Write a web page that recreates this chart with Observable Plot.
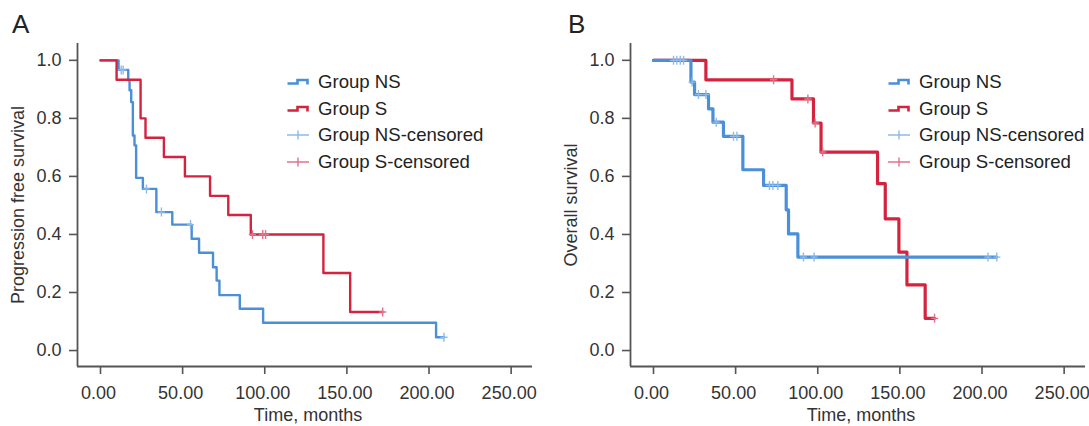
<!DOCTYPE html>
<html>
<head>
<meta charset="utf-8">
<script src="https://cdn.jsdelivr.net/npm/d3@7"></script>
<script src="https://cdn.jsdelivr.net/npm/@observablehq/plot@0.6"></script>
<style>
  body { margin: 0; background: #fff; font-family: "Liberation Sans", Arial, Helvetica, sans-serif; }
  #wrap { position: relative; width: 1089px; height: 426px; overflow: hidden; background: #fff; }
  .panel { position: absolute; top: 0; }
  .tag { position: absolute; font-size: 26px; line-height: 26px; color: #222; }
  .legend { position: absolute; font-size: 18.6px; color: #222; }
  .legend .row { height: 26.5px; display: flex; align-items: center; white-space: nowrap; }
  .legend svg { width: 22px; height: 12px; margin-right: 9px; flex: none; }
</style>
</head>
<body>
<div id="wrap"></div>
<script>
// ---------- data ----------
const xTicks = [0, 50, 100, 150, 200, 250];
const yTicks = [0, 0.2, 0.4, 0.6, 0.8, 1.0];
const legendLabels = ["Group NS", "Group S", "Group NS-censored", "Group S-censored"];
const panelTags = ["A", "B"];
const yTitles = ["Progression free survival", "Overall survival"];
const xTitle = "Time, months";

// Panel A: progression free survival
const pfsNSTime = [0, 11, 16.9, 17.7, 18.7, 19.7, 20.7, 21.7, 25.8, 34, 43.7, 55.5, 60, 68.5, 70.7, 72.4, 84.8, 99, 204.3, 209.1];
const pfsNSSurv = [1, 0.967, 0.931, 0.897, 0.856, 0.741, 0.707, 0.595, 0.557, 0.477, 0.434, 0.385, 0.337, 0.287, 0.241, 0.191, 0.144, 0.096, 0.046, 0.046];
const pfsNSCensTime = [12.6, 13.8, 28, 37.1, 54.8, 209.1];
const pfsNSCensSurv = [0.967, 0.967, 0.557, 0.477, 0.434, 0.046];

const pfsSTime = [0, 9.8, 24.4, 27.4, 38.6, 51.4, 66.7, 77.8, 91.5, 135.7, 152, 171.8];
const pfsSSurv = [1, 0.933, 0.8, 0.733, 0.667, 0.6, 0.533, 0.467, 0.4, 0.267, 0.133, 0.133];
const pfsSCensTime = [92.5, 98.8, 100.5, 171.8];
const pfsSCensSurv = [0.4, 0.4, 0.4, 0.133];

// Panel B: overall survival
const osNSTime = [0, 22.8, 25, 33.5, 36.2, 42.6, 54.4, 67, 80.8, 82.2, 87.9, 209];
const osNSSurv = [1, 0.925, 0.882, 0.833, 0.787, 0.738, 0.623, 0.569, 0.485, 0.402, 0.322, 0.322];
const osNSCensTime = [12.2, 14.2, 16.3, 18.3, 23.5, 27.4, 31.9, 38.2, 48.7, 50.8, 70.6, 72.7, 75.7, 91.3, 97.8, 203.6, 209];
const osNSCensSurv = [1, 1, 1, 1, 0.925, 0.882, 0.882, 0.787, 0.738, 0.738, 0.569, 0.569, 0.569, 0.322, 0.322, 0.322, 0.322];

const osSTime = [0, 31.9, 84.3, 97.4, 102, 136.4, 141.1, 149.4, 154.3, 165.4, 171.1];
const osSSurv = [1, 0.933, 0.867, 0.784, 0.684, 0.575, 0.454, 0.339, 0.226, 0.111, 0.111];
const osSCensTime = [73.1, 94, 98.4, 103, 171.1];
const osSCensSurv = [0.933, 0.867, 0.784, 0.684, 0.111];

// ---------- styling ----------
const BLUE = "#4a8fd8", RED = "#d3233f";
const BLUE_L = "#8fbbe8", RED_L = "#e2728a";
const AXIS = "#555", TEXT = "#333";
const FONT = "'Liberation Sans', Arial, Helvetica, sans-serif";
const xDomain = [-14, 263];
const yDomain = [-0.055, 1.058];

const cross = {
  draw(ctx, size) {
    const r = Math.sqrt(size / Math.PI);
    ctx.moveTo(-r * 0.8, 0); ctx.lineTo(r * 0.8, 0);
    ctx.moveTo(0, -r); ctx.lineTo(0, r);
  }
};

const toRows = (ts, ss) => ts.map((t, i) => ({t, s: ss[i]}));

function panel({width, marginRight, ns, nsC, s, sC, yTitle, lw, blueOnTop}) {
  const blueMarks = [
    Plot.line(ns, {x: "t", y: "s", curve: "step-after", stroke: BLUE, strokeWidth: lw}),
    Plot.dot(nsC, {x: "t", y: "s", symbol: cross, r: 4.5, stroke: BLUE_L, strokeWidth: 1.4, fill: "none"})
  ];
  const redMarks = [
    Plot.line(s, {x: "t", y: "s", curve: "step-after", stroke: RED, strokeWidth: lw}),
    Plot.dot(sC, {x: "t", y: "s", symbol: cross, r: 4.5, stroke: RED_L, strokeWidth: 1.4, fill: "none"})
  ];
  return Plot.plot({
    width, height: 426,
    marginLeft: 77, marginRight, marginTop: 43, marginBottom: 60,
    style: {fontFamily: FONT, fontSize: "18px", color: TEXT, background: "white", overflow: "visible"},
    x: {domain: xDomain},
    y: {domain: yDomain},
    marks: [
      // tick marks only
      Plot.axisX({ticks: xTicks, tickFormat: () => "", tickSize: 8,
                  stroke: AXIS, strokeWidth: 1.6, label: null}),
      // tick labels only
      Plot.axisX({ticks: xTicks, tickFormat: d3.format(".2f"), tickSize: 0, tickPadding: 20,
                  fontSize: 18, fill: TEXT, label: null, dx: -2}),
      Plot.axisY({ticks: yTicks, tickFormat: d3.format(".1f"), tickSize: 8, tickPadding: 8,
                  fontSize: 18, stroke: AXIS, strokeWidth: 1.6, fill: TEXT, label: null}),
      Plot.ruleX([xDomain[0]], {stroke: AXIS, strokeWidth: 1.8}),
      Plot.ruleY([yDomain[0]], {stroke: AXIS, strokeWidth: 1.8}),
      Plot.text([yTitle], {frameAnchor: "left", textAnchor: "middle", lineAnchor: "middle",
                           dx: -59, rotate: -90, fontSize: 18, fill: TEXT}),
      Plot.text([xTitle], {frameAnchor: "bottom", textAnchor: "middle", lineAnchor: "middle",
                           dx: 3, dy: 48.5, fontSize: 18, fill: TEXT}),
      ...(blueOnTop ? [...redMarks, ...blueMarks] : [...blueMarks, ...redMarks])
    ]
  });
}

const wrap = document.getElementById("wrap");

function addPanel(left, node) {
  const d = document.createElement("div");
  d.className = "panel";
  d.style.left = left + "px";
  d.appendChild(node);
  wrap.appendChild(d);
}

addPanel(0, panel({
  width: 553, marginRight: 21,
  ns: toRows(pfsNSTime, pfsNSSurv), nsC: toRows(pfsNSCensTime, pfsNSCensSurv),
  s: toRows(pfsSTime, pfsSSurv), sC: toRows(pfsSCensTime, pfsSCensSurv),
  yTitle: yTitles[0], lw: 2.4, blueOnTop: false
}));
addPanel(553, panel({
  width: 536, marginRight: 4,
  ns: toRows(osNSTime, osNSSurv), nsC: toRows(osNSCensTime, osNSCensSurv),
  s: toRows(osSTime, osSSurv), sC: toRows(osSCensTime, osSCensSurv),
  yTitle: yTitles[1], lw: 3.2, blueOnTop: true
}));

// panel tags
[[12, 11], [568, 11]].forEach(([x, y], i) => {
  const t = document.createElement("div");
  t.className = "tag";
  t.style.left = x + "px"; t.style.top = y + "px";
  t.textContent = panelTags[i];
  wrap.appendChild(t);
});

// legends
const iconStep = c => `<svg viewBox="0 0 22 12"><path d="M0.5,7.5H10.5V4H20.5V8.5" fill="none" stroke="${c}" stroke-width="2.6"/></svg>`;
const iconCross = c => `<svg viewBox="0 0 22 12"><path d="M0,6H22M11,1.5V10.5" fill="none" stroke="${c}" stroke-width="1.4"/></svg>`;
const icons = [iconStep(BLUE), iconStep(RED), iconCross(BLUE_L), iconCross(RED_L)];
[[287, 69], [888, 69]].forEach(([x, y]) => {
  const lg = document.createElement("div");
  lg.className = "legend";
  lg.style.left = x + "px"; lg.style.top = y + "px";
  lg.innerHTML = legendLabels.map((l, i) => `<div class="row">${icons[i]}<span>${l}</span></div>`).join("");
  wrap.appendChild(lg);
});
</script>
</body>
</html>
